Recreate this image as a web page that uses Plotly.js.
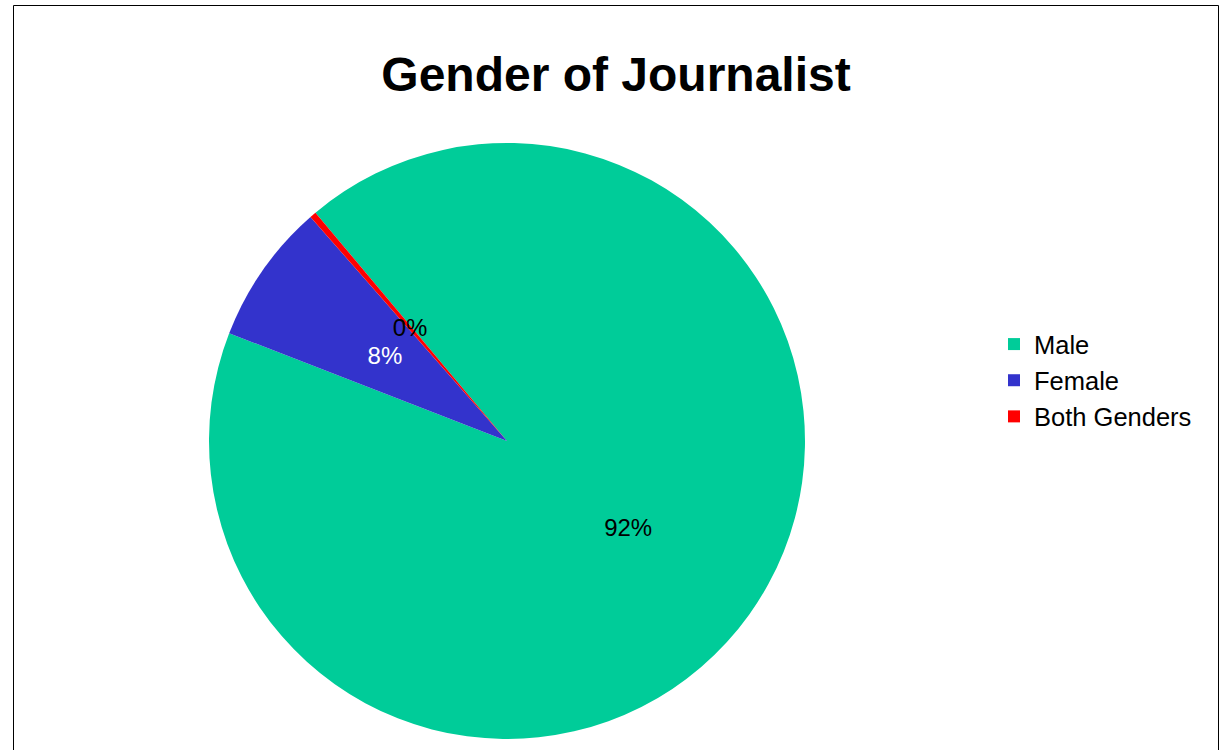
<!DOCTYPE html>
<html>
<head>
<meta charset="utf-8">
<script src="https://cdn.plot.ly/plotly-3.0.1.min.js"></script>
<style>html,body{margin:0;padding:0;background:#fff;}#chart{width:1225px;height:750px;}</style>
</head>
<body>
<div id="chart"></div>
<script>
const categories = ["Male", "Female", "Both Genders"];
const shares = [92.0, 7.65, 0.35];
const sliceColors = ["#00CC99", "#3333CC", "#FF0000"];
const labelColors = ["#000000", "#FFFFFF", "#000000"];
const chartTitle = "Gender of Journalist";

const W = 1225, H = 750;
const cx = 507, cy = 441, R = 298;
const labelR = 149, hole = 0.99;
const R2 = labelR / ((1 + hole) / 2);
const FONT = "Liberation Sans, Arial, sans-serif";

// Main pie: draws the slices and the label of the large slice (centred at half radius)
const pie = {
  type: "pie",
  labels: categories,
  values: shares,
  sort: false,
  direction: "clockwise",
  rotation: -40,
  marker: { colors: sliceColors, line: { width: 0 } },
  texttemplate: ["%{percent:.0%}", "", ""],
  textposition: "inside",
  insidetextorientation: "horizontal",
  insidetextfont: { family: FONT, size: 24, color: labelColors },
  hoverinfo: "label+percent",
  domain: { x: [(cx - R) / W, (cx + R) / W], y: [(H - cy - R) / H, (H - cy + R) / H] }
};

// Transparent thin ring: places the small slices' labels at half radius along each slice's mid-angle
const labelsPie = {
  type: "pie",
  labels: categories,
  values: shares,
  sort: false,
  direction: "clockwise",
  rotation: -40,
  hole: hole,
  showlegend: false,
  marker: { colors: ["rgba(0,0,0,0)", "rgba(0,0,0,0)", "rgba(0,0,0,0)"], line: { width: 0 } },
  texttemplate: ["", "%{percent:.0%}", "%{percent:.0%}"],
  textposition: "inside",
  insidetextorientation: "horizontal",
  insidetextfont: { family: FONT, size: 24, color: labelColors },
  hoverinfo: "skip",
  domain: { x: [(cx - R2) / W, (cx + R2) / W], y: [(H - cy - R2) / H, (H - cy + R2) / H] }
};

const layout = {
  width: W, height: H,
  margin: { l: 0, r: 0, t: 0, b: 0 },
  paper_bgcolor: "#ffffff",
  font: { family: FONT, color: "#000000" },
  title: {
    text: "<b>" + chartTitle + "</b>",
    font: { family: FONT, size: 48, color: "#000000" },
    x: 616 / W, xanchor: "center", xref: "container",
    y: 1 - 74 / H, yanchor: "middle", yref: "container"
  },
  uniformtext: { mode: "show", minsize: 24 },
  legend: {
    x: 994 / W, xanchor: "left",
    y: 1 - 380.5 / H, yanchor: "middle",
    font: { family: FONT, size: 25.5, color: "#000000" },
    bgcolor: "rgba(0,0,0,0)"
  },
  shapes: [{
    type: "rect", xref: "paper", yref: "paper",
    x0: 13.5 / W, x1: 1218.5 / W, y0: -0.02, y1: 1 - 5.5 / H,
    line: { color: "#000000", width: 1 }, fillcolor: "rgba(0,0,0,0)", layer: "below"
  }]
};

Plotly.newPlot("chart", [pie, labelsPie], layout, { displayModeBar: false, staticPlot: true });
</script>
</body>
</html>
